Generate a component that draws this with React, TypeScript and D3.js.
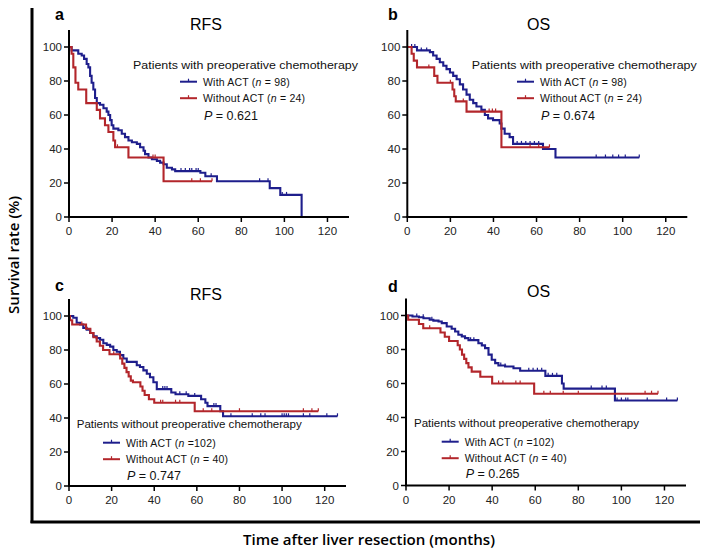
import React from "react";
import * as d3 from "d3";

const BLUE = "#1e1e8c";
const RED = "#b3262b";
const FONT = "'Liberation Sans', Arial, sans-serif";

const xTickValues = [0, 20, 40, 60, 80, 100, 120];
const yTickValues = [0, 20, 40, 60, 80, 100];

// a: RFS, with preoperative chemotherapy
const aWithT = [0, 1.2, 4.3, 5.9, 7.0, 8.2, 9.0, 9.8, 10.5, 11.3, 12.1, 12.9, 14.4, 16.0, 17.5, 18.3, 19.1, 19.8, 20.6, 22.9, 24.5, 26.0, 27.6, 29.2, 31.5, 33.0, 34.6, 35.3, 36.9, 38.5, 40.8, 42.3, 43.9, 45.4, 47.8, 49.3, 61.0, 63.3, 68.7, 93.2, 98.1, 108];
const aWithS = [100, 98, 96, 95, 93, 90, 88, 83, 79, 75, 70, 67, 66, 64, 62, 60, 57, 54, 52, 51, 49, 47, 45, 44, 43, 41, 39, 37, 35, 34, 33, 32, 31, 29, 28, 27, 26, 24, 21, 17, 13, 0];
const aWithCens = [52, 54, 56, 57, 59, 60, 66, 88.5, 92.4, 99, 101];
const aWithoutT = [0, 1.2, 2.0, 3.0, 4.3, 8.0, 12.9, 14.4, 16.7, 18.3, 20.6, 21.4, 27.6, 43.9];
const aWithoutS = [100, 96, 88, 79, 75, 67, 63, 58, 54, 50, 45, 41, 35, 21];
const aWithoutCens = [22.5, 39, 40, 57, 61, 66.4];

// b: OS, with preoperative chemotherapy
const bWithT = [0, 4.5, 10.5, 12.0, 13.6, 15.1, 16.7, 18.2, 19.8, 21.3, 22.9, 24.4, 25.9, 27.5, 29.0, 30.6, 32.1, 34.4, 36.0, 37.5, 39.8, 42.9, 43.7, 45.2, 47.5, 49.1, 63.0, 68.8];
const bWithS = [100, 98, 97, 95, 93, 91, 89, 87, 85, 83, 81, 78, 75, 72, 69, 67, 65, 63, 60, 58, 57, 55, 52, 49, 47, 43, 40, 35];
const bWithCens = [2, 3.5, 6.5, 9, 51, 53, 55, 57, 59, 61, 87.7, 92, 95.4, 98.1, 101.2, 107.7];
const bWithoutT = [0, 2.0, 3.0, 4.5, 12.5, 14.0, 21.0, 21.8, 22.5, 27.5, 43.7];
const bWithoutS = [100, 96, 92, 88, 83, 79, 75, 71, 68, 62, 41];
const bWithoutCens = [10, 20, 26, 38, 39.5, 41, 57, 61, 66];

// c: RFS, without preoperative chemotherapy
const cWithT = [0, 2.0, 3.6, 5.2, 6.7, 8.3, 9.9, 11.4, 13.0, 14.6, 16.1, 17.7, 19.3, 20.8, 22.4, 23.9, 25.5, 27.1, 31.8, 33.3, 34.9, 36.5, 38.0, 39.6, 41.2, 48, 50, 56, 62, 64, 65, 71, 72.3];
const cWithS = [100, 99, 96, 95, 93, 92, 90, 88, 87, 86, 84, 83, 82, 80, 79, 77, 75, 73, 71, 70, 68, 66, 64, 61, 57, 55, 54, 53, 51, 49, 47, 44, 41];
const cWithCens = [44, 45, 46, 52, 55, 59, 68, 69, 76, 86, 90, 92, 100, 101, 102, 103, 110, 113, 121, 126];
const cWithoutT = [0, 0.5, 1.5, 8, 10, 11.5, 13, 14.5, 16, 19, 24, 25, 26, 27, 28, 29, 30, 33.5, 34.5, 35.5, 37.5, 40, 59];
const cWithoutS = [100, 97.5, 95, 92.5, 90, 87.5, 85, 82.5, 80, 77.5, 75, 72, 69.5, 67, 64.5, 62, 61, 58.5, 56, 53.5, 51, 49, 44];
const cWithoutCens = [6, 21, 43, 44, 50, 52, 63, 67, 80, 110, 114, 117];

// d: OS, without preoperative chemotherapy
const dWithT = [0, 3, 6, 8.1, 11, 12.7, 15.1, 16.6, 18.9, 21.2, 22.8, 24.3, 25.9, 27.4, 29.0, 33.6, 35.2, 36.7, 38.3, 39.8, 41.4, 42.9, 46.0, 49.9, 53, 64.7, 72.4, 73.2, 97];
const dWithS = [100, 99.4, 99, 98.4, 97.5, 97, 96.5, 95.5, 93.5, 92.2, 90.6, 88.7, 87.7, 86.7, 85.5, 83.7, 82.4, 80.8, 77, 74, 72, 70.6, 70, 69, 67.5, 64.5, 60, 57, 50];
const dWithCens = [5, 8, 12, 30, 31.5, 44, 46, 57, 59, 61, 63, 66, 68, 70, 86, 91, 93, 98, 100, 102, 103, 112, 121, 126];
const dWithoutT = [0, 1, 6, 8, 16, 18, 20, 24, 25, 26, 27, 28, 29, 30.5, 34.5, 40, 59.5];
const dWithoutS = [100, 97.5, 95, 92.5, 90, 87.5, 85, 82.5, 80, 77, 74.5, 72, 69.5, 67, 64, 60, 54];
const dWithoutCens = [11, 43, 45, 51, 53, 64, 67, 73, 80, 111, 114, 117];

type Curve = { t: number[]; s: number[]; end: number; cens: number[]; color: string };
type Legend = { tx: number; ty: number; lx: number; ly: number; title: string; nWith: string; nWithout: string; p: string; py: number };

const KMPanel = ({
  left, top, w, h, letter, title, letterX, letterY, titleX, titleY, curves, legend,
}: {
  left: number; top: number; w: number; h: number; letter: string; title: string;
  letterX: number; letterY: number; titleX: number; titleY: number; curves: Curve[]; legend: Legend;
}) => {
  const x = d3.scaleLinear([0, 130], [left, left + w]);
  const y = d3.scaleLinear([0, 110], [top + h, top]);
  const line = d3.line<[number, number]>().x((d) => x(d[0])).y((d) => y(d[1])).curve(d3.curveStepAfter);
  const surv = (c: Curve, tt: number) => c.s[Math.max(0, d3.bisectRight(c.t, tt) - 1)];
  const textX = legend.lx + 23;
  return (
    <g>
      <text x={letterX} y={letterY} fontFamily={FONT} fontWeight="bold" fontSize={16}>{letter}</text>
      <text x={titleX} y={titleY} fontFamily={FONT} fontSize={16} textAnchor="middle">{title}</text>
      {curves.map((c, i) => {
        const pts: [number, number][] = c.t.map((tt, j) => [tt, c.s[j]]);
        pts.push([c.end, c.s[c.s.length - 1]]);
        return (
          <g key={i}>
            <path d={line(pts) as string} fill="none" stroke={c.color} strokeWidth={2.1} />
            {c.cens.map((cc, j) => (
              <line key={j} x1={x(cc)} x2={x(cc)} y1={y(surv(c, cc)) - 3} y2={y(surv(c, cc))} stroke={c.color} strokeWidth={1.2} />
            ))}
          </g>
        );
      })}
      <line x1={left} x2={left} y1={top} y2={top + h} stroke="#000" strokeWidth={2} />
      <line x1={left - 1} x2={left + w} y1={top + h} y2={top + h} stroke="#000" strokeWidth={2} />
      {yTickValues.map((v) => (
        <g key={v}>
          <line x1={left - 5} x2={left} y1={y(v)} y2={y(v)} stroke="#000" strokeWidth={1.5} />
          <text x={left - 7} y={y(v) + 4} textAnchor="end" fontFamily={FONT} fontSize={11.5} fill="#222">{v}</text>
        </g>
      ))}
      {xTickValues.map((v) => (
        <g key={v}>
          <line x1={x(v)} x2={x(v)} y1={top + h} y2={top + h + 5} stroke="#000" strokeWidth={1.5} />
          <text x={x(v)} y={top + h + 18} textAnchor="middle" fontFamily={FONT} fontSize={11.5} fill="#222">{v}</text>
        </g>
      ))}
      <text x={legend.tx} y={legend.ty} fontFamily={FONT} fontSize={11} textLength={225} lengthAdjust="spacingAndGlyphs" fill="#111">{legend.title}</text>
      {[curves[0], curves[1]].map((c, i) => (
        <g key={i}>
          <line x1={legend.lx} x2={legend.lx + 17} y1={legend.ly + i * 16.5} y2={legend.ly + i * 16.5} stroke={c.color} strokeWidth={2} />
          <line x1={legend.lx + 8.5} x2={legend.lx + 8.5} y1={legend.ly + i * 16.5 - 3} y2={legend.ly + i * 16.5} stroke={c.color} strokeWidth={1.2} />
          <text x={textX} y={legend.ly + i * 16.5 + 4} fontFamily={FONT} fontSize={10.5} fill="#111" letterSpacing={0.2}>
            {i === 0 ? "With ACT (" : "Without ACT ("}
            <tspan fontStyle="italic">n</tspan>
            {i === 0 ? legend.nWith : legend.nWithout}
          </text>
        </g>
      ))}
      <text x={textX + 1} y={legend.py} fontFamily={FONT} fontSize={12.5} fill="#111">
        <tspan fontStyle="italic">P</tspan>{" = " + legend.p}
      </text>
    </g>
  );
};

const App = () => {
  const titleWith = "Patients with preoperative chemotherapy";
  const titleWithout = "Patients without preoperative chemotherapy";
  return (
    <svg width={708} height={549} style={{ display: "block", margin: "-8px 0 0 -8px" }}>
      <rect width={708} height={549} fill="#fff" />
      <KMPanel left={69} top={30} w={280} h={187} letter="a" title="RFS" letterX={55} letterY={20} titleX={206} titleY={30}
        curves={[
          { t: aWithT, s: aWithS, end: 108, cens: aWithCens, color: BLUE },
          { t: aWithoutT, s: aWithoutS, end: 66.4, cens: aWithoutCens, color: RED },
        ]}
        legend={{ tx: 133, ty: 69, lx: 180, ly: 81.7, title: titleWith, nWith: " = 98)", nWithout: " = 24)", p: "0.621", py: 120 }}
      />
      <KMPanel left={407.3} top={30} w={280} h={187} letter="b" title="OS" letterX={388} letterY={20} titleX={538.5} titleY={30}
        curves={[
          { t: bWithT, s: bWithS, end: 107.7, cens: bWithCens, color: BLUE },
          { t: bWithoutT, s: bWithoutS, end: 66, cens: bWithoutCens, color: RED },
        ]}
        legend={{ tx: 471.7, ty: 69, lx: 517, ly: 81.7, title: titleWith, nWith: " = 98)", nWithout: " = 24)", p: "0.674", py: 120 }}
      />
      <KMPanel left={69} top={299} w={277} h={187} letter="c" title="RFS" letterX={55} letterY={291} titleX={206} titleY={300}
        curves={[
          { t: cWithT, s: cWithS, end: 126, cens: cWithCens, color: BLUE },
          { t: cWithoutT, s: cWithoutS, end: 117, cens: cWithoutCens, color: RED },
        ]}
        legend={{ tx: 76.7, ty: 428, lx: 103, ly: 442.7, title: titleWithout, nWith: " =102)", nWithout: " = 40)", p: "0.747", py: 480 }}
      />
      <KMPanel left={406} top={298.5} w={280} h={187} letter="d" title="OS" letterX={388} letterY={292} titleX={538.5} titleY={297}
        curves={[
          { t: dWithT, s: dWithS, end: 126, cens: dWithCens, color: BLUE },
          { t: dWithoutT, s: dWithoutS, end: 117, cens: dWithoutCens, color: RED },
        ]}
        legend={{ tx: 414, ty: 426.7, lx: 441.7, ly: 441.7, title: titleWithout, nWith: " =102)", nWithout: " = 40)", p: "0.265", py: 478 }}
      />
      <line x1={32} x2={32} y1={0} y2={523} stroke="#000" strokeWidth={3} />
      <line x1={30.5} x2={708} y1={522} y2={522} stroke="#000" strokeWidth={3} />
      <text transform="translate(18.5,255) rotate(-90)" textAnchor="middle" fontFamily="'Open Sans', sans-serif" fontWeight={600} fontSize={14} textLength={118} lengthAdjust="spacingAndGlyphs">Survival rate (%)</text>
      <text x={369} y={545} textAnchor="middle" fontFamily="'Open Sans', sans-serif" fontWeight={600} fontSize={15} textLength={252} lengthAdjust="spacingAndGlyphs">Time after liver resection (months)</text>
    </svg>
  );
};

export default App;
